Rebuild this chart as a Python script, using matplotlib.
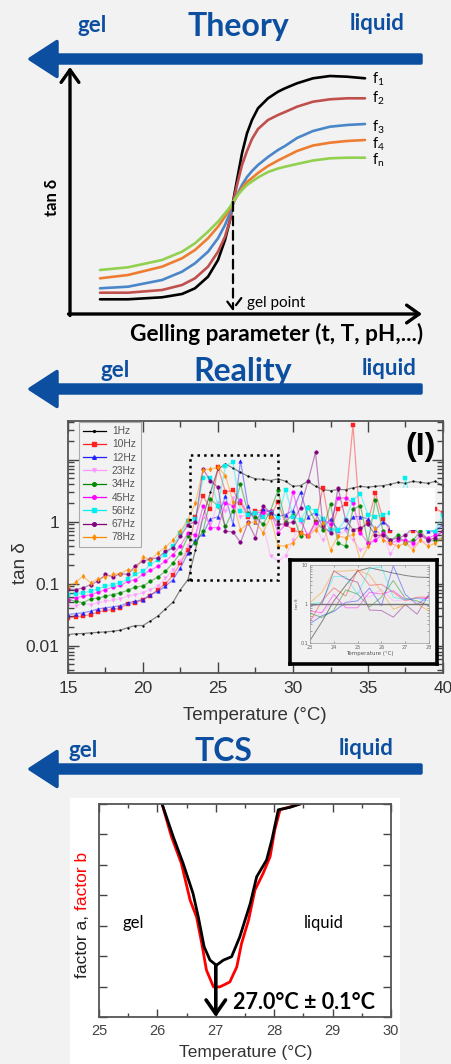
import numpy as np
import matplotlib.pyplot as plt
from matplotlib.patches import FancyArrow, Rectangle
from matplotlib.ticker import LogLocator, MultipleLocator, FixedLocator, FixedFormatter, NullFormatter

W, H = 452, 1064
BG = '#f2f2f2'
BLUE = '#0c4fa0'
SANS = 'Liberation Sans'
CAL = 'Lato'

# ---------------- Theory (arbitrary units) ----------------
th_x = [30, 58, 92, 112, 125, 138, 148, 155, 160, 163, 167, 172, 177, 182, 188, 198, 208, 215,
        227, 243, 260, 277, 295]
f1_y = [14.7, 14.7, 16.7, 20, 25.7, 37.3, 54, 74, 94, 112, 134, 160.7, 180.7, 194, 205.7, 215.7, 222.3, 225.7,
        230.7, 235.7, 238, 237.3, 235.7]
f2_y = [21.3, 21.3, 24, 29, 35.7, 47.3, 62.3, 77.3, 94, 110.7, 129, 149, 163, 175, 185, 194, 199, 202,
        207.3, 212.3, 214.7, 215.7, 215.7]
f3_y = [25.7, 27.3, 34, 42.3, 50.7, 62.3, 75.7, 89, 101, 110, 119, 129, 137, 143, 149, 157, 164, 168,
        176, 183, 187.3, 189, 190]
f4_y = [35.7, 39, 47.3, 55.7, 64, 75.7, 87.3, 97.3, 105, 111, 118, 126, 132, 136, 141, 148, 153.5, 157,
        163, 168.5, 171.3, 173, 174]
fn_y = [44, 46.7, 54, 62.3, 70.7, 82.3, 92.3, 100.7, 107, 112, 118, 124, 129, 132.5, 136.5, 142, 145.5, 147.3,
        150, 153.5, 155.7, 156.3, 156.3]
theory_labels = [r'f$_\mathregular{1}$', r'f$_\mathregular{2}$', r'f$_\mathregular{3}$',
                 r'f$_\mathregular{4}$', r'f$_\mathregular{n}$']
theory_label_y = [231, 212, 183, 166, 150]
theory_colors = ['black', '#c0504d', '#4a86c8', '#ed7d31', '#92d050']
gel_point = (163, 112)

# ---------------- Reality: tan delta vs temperature ----------------
temps = np.arange(15, 40.01, 0.5)
freqs = ['1Hz', '10Hz', '12Hz', '23Hz', '34Hz', '45Hz', '56Hz', '67Hz', '78Hz']
tan_1 = [0.015, 0.0155, 0.0156, 0.016, 0.0163, 0.0166, 0.017, 0.0177, 0.0195, 0.021, 0.021, 0.025, 0.030, 0.039, 0.050, 0.080, 0.116,
         0.35, 1.2, 3.0, 7.0, 8.5, 7.3, 6.2, 5.4, 4.9, 4.8, 4.6, 4.9,
         4.47, 3.71, 3.81, 4.47, 3.71, 3.28, 3.16, 3.28, 3.28, 3.5, 3.71, 3.6, 3.71, 3.81, 4.0, 4.3, 4.15, 4.47, 4.3, 4.15, 4.47, 3.71]
tan_10 = [0.0279, 0.029, 0.0297, 0.0316, 0.0345, 0.037, 0.038, 0.0405, 0.047, 0.0488, 0.055, 0.064, 0.080, 0.10, 0.135, 0.215, 0.354,
          1.2, 2.6, 1.6, 7.5, 3.0, 3.2, 2.0, 1.2, 1.5, 1.5, 1.2, 2.1, 0.9, 0.74, 0.66, 0.58, 1.0, 3.5, 0.74, 1.6, 1.9, 36, 0.74,
          1.0, 2.9, 1.1, 0.7, 0.9, 1.3, 0.7, 0.9, 1.2, 1.6, 1.4]
tan_12 = [0.0316, 0.0328, 0.0337, 0.0358, 0.039, 0.0405, 0.042, 0.044, 0.0488, 0.052, 0.055, 0.0665, 0.075, 0.091, 0.116, 0.179, 0.313,
          0.5, 0.64, 1.1, 1.2, 2.56, 0.9, 9.6, 1.77, 0.97, 1.6, 1.4, 1.2, 1.3, 1.5, 3.0, 1.2, 1.4, 0.8, 1.1, 0.74, 0.8, 1.2, 1.2,
          1.1, 0.74, 1.0, 0.8, 0.9, 1.1, 0.8, 0.9, 0.7, 0.7, 0.9]
tan_23 = [0.043, 0.044, 0.0476, 0.0458, 0.0488, 0.052, 0.054, 0.057, 0.0625, 0.0665, 0.071, 0.080, 0.091, 0.123, 0.168, 0.229, 0.40,
          0.6, 1.2, 0.9, 2.0, 1.5, 2.4, 1.2, 1.3, 1.1, 0.9, 0.28, 0.23, 0.28, 0.5, 1.0, 0.6, 0.8, 0.5, 0.9, 0.6, 0.7, 0.5, 0.35,
          0.4, 0.5, 0.6, 0.3, 0.5, 0.45, 0.4, 0.5, 0.45, 0.5, 0.6]
tan_34 = [0.055, 0.052, 0.0488, 0.0566, 0.058, 0.0625, 0.0665, 0.071, 0.078, 0.088, 0.091, 0.109, 0.128, 0.158, 0.215, 0.313, 0.58,
          0.45, 0.7, 2.3, 1.8, 0.84, 1.5, 4.0, 1.4, 1.2, 0.9, 1.5, 3.2, 1.0, 1.3, 0.58, 1.7, 1.0, 0.74, 1.9, 0.45, 0.4, 1.6, 1.8,
          0.45, 2.26, 0.7, 0.5, 0.6, 0.45, 0.5, 0.7, 0.5, 0.5, 0.55]
tan_45 = [0.055, 0.0588, 0.0625, 0.0665, 0.072, 0.080, 0.088, 0.093, 0.109, 0.116, 0.14, 0.164, 0.19, 0.229, 0.294, 0.41, 0.656,
          0.6, 1.77, 0.8, 0.8, 2.0, 1.8, 2.2, 1.3, 1.4, 1.4, 1.5, 0.66, 0.9, 3.0, 1.08, 0.58, 0.95, 1.08, 0.9, 2.4, 2.4, 2.0, 0.66,
          0.45, 0.5, 0.66, 0.45, 0.5, 0.5, 0.45, 0.6, 0.55, 0.6, 0.7]
tan_56 = [0.0665, 0.069, 0.071, 0.075, 0.082, 0.091, 0.096, 0.103, 0.119, 0.14, 0.158, 0.203, 0.244, 0.294, 0.40, 0.656, 1.01,
          1.1, 5.1, 5.1, 1.77, 8.0, 9.0, 1.5, 1.3, 1.4, 1.2, 1.4, 1.2, 3.28, 1.2, 1.08, 1.66, 1.5, 1.1, 0.74, 0.74, 1.08, 2.26, 2.75,
          1.3, 1.2, 1.3, 1.4, 1.3, 5.0, 1.4, 1.0, 0.75, 0.7, 1.3]
tan_67 = [0.082, 0.080, 0.085, 0.096, 0.109, 0.14, 0.128, 0.145, 0.14, 0.195, 0.229, 0.25, 0.26, 0.333, 0.376, 0.58, 0.895,
          1.0, 7.1, 4.5, 3.6, 0.7, 0.68, 0.46, 0.97, 0.55, 1.8, 1.4, 0.92, 0.9, 1.0, 1.66, 4.5, 13.1, 0.84, 0.66, 3.5, 1.08, 0.74, 0.8,
          0.9, 0.6, 0.6, 0.5, 0.55, 0.6, 0.8, 0.6, 0.5, 0.55, 0.7]
tan_78 = [0.088, 0.105, 0.131, 0.103, 0.119, 0.128, 0.140, 0.145, 0.168, 0.164, 0.269, 0.244, 0.313, 0.39, 0.50, 0.70, 1.08,
          2.0, 6.9, 7.0, 7.5, 5.5, 2.1, 0.74, 0.94, 1.0, 0.66, 1.2, 0.40, 0.41, 0.45, 0.66, 0.58, 0.74, 0.95, 0.35, 0.58, 0.55, 0.62, 0.23,
          0.4, 0.8, 0.5, 0.45, 0.4, 0.45, 0.35, 0.5, 0.4, 0.45, 0.55]
tan_series = [tan_1, tan_10, tan_12, tan_23, tan_34, tan_45, tan_56, tan_67, tan_78]
freq_colors = ['black', '#ff2020', '#2020ff', '#ff99ff', '#008800', '#ff00ff', '#00f0f0', '#800080', '#ff8c00']
freq_markers = ['.', 's', '^', 'v', 'o', 'o', 's', 'o', 'd']
zoom_box = (23.1, 29.0, 0.116, 12.0)

# ---------------- TCS ----------------
fa_T = [26.08, 26.27, 26.44, 26.61, 26.70, 26.80, 26.90, 27.01, 27.13, 27.27, 27.41, 27.59, 27.70, 27.87, 27.96, 28.07, 28.27, 28.44]
fa_v = [7.0, 5.93, 5.05, 4.06, 3.29, 2.31, 1.87, 1.70, 1.87, 1.98, 2.63, 3.73, 4.61, 5.16, 5.82, 6.81, 6.89, 7.0]
fb_T = [26.08, 26.24, 26.41, 26.56, 26.67, 26.76, 26.84, 26.96, 27.07, 27.24, 27.36, 27.44, 27.56, 27.67, 27.81, 27.93, 28.01, 28.10, 28.44]
fb_v = [7.0, 5.93, 5.05, 3.84, 3.29, 2.41, 1.54, 0.99, 0.99, 1.15, 1.65, 2.41, 3.18, 4.17, 4.72, 5.27, 6.15, 6.81, 7.0]
t_gel = 27.0
t_gel_text = '27.0°C ± 0.1°C'


def fig_rect(x0, y0, x1, y1):
    # pixel box (top-left origin) -> figure fraction
    return [x0 / W, 1 - y1 / H, (x1 - x0) / W, (y1 - y0) / H]


fig = plt.figure(figsize=(W / 100, H / 100), dpi=100, facecolor=BG)

# overlay in pixel coordinates for headings and labels
ov = fig.add_axes([0, 0, 1, 1], zorder=20)
ov.set_xlim(0, W)
ov.set_ylim(H, 0)
ov.axis('off')


def header(y_arrow, y_text, title, gel_x, title_x, liq_x):
    ov.add_patch(FancyArrow(421, y_arrow, -391, 0, width=8, head_width=35, head_length=27,
                            length_includes_head=True, fc=BLUE, ec=BLUE, lw=2.5, joinstyle='round'))
    ov.text(gel_x, y_text, 'gel', color=BLUE, fontsize=16, fontweight='bold', family=CAL, ha='center', va='baseline')
    ov.text(title_x, y_text + 4, title, color=BLUE, fontsize=23, fontweight='bold', family=CAL, ha='center', va='baseline')
    ov.text(liq_x, y_text - 2, 'liquid', color=BLUE, fontsize=16, fontweight='bold', family=CAL, ha='center', va='baseline')


header(59, 32, 'Theory', 92, 238, 377)
header(389, 377, 'Reality', 115, 243, 389)
header(769, 757, 'TCS', 83, 223, 366)

# ---------------- Theory panel ----------------
ax1 = fig.add_axes(fig_rect(70, 70, 420, 314), zorder=2)
ax1.set_xlim(0, 350)
ax1.set_ylim(0, 244)
ax1.axis('off')
for ys, c in zip([f1_y, f2_y, f3_y, f4_y, fn_y], theory_colors):
    ax1.plot(th_x, ys, color=c, lw=1.9, solid_capstyle='round', solid_joinstyle='round')
for lab, ly in zip(theory_labels, theory_label_y):
    ax1.text(302, ly, lab, fontsize=10.5, family=CAL, ha='left', va='baseline')
arr = dict(arrowstyle='->,head_length=0.45,head_width=0.32', lw=2.4, color='black', mutation_scale=20,
           shrinkA=0, shrinkB=0)
ax1.annotate('', xy=(0, 247), xytext=(0, -1.5), arrowprops=arr, annotation_clip=False)
ax1.annotate('', xy=(352, 0), xytext=(-1.5, 0), arrowprops=arr, annotation_clip=False)
ax1.annotate('', xy=(gel_point[0], 3), xytext=gel_point,
             arrowprops=dict(arrowstyle='->,head_length=0.4,head_width=0.3', lw=1.6, ls=(0, (4, 2.5)),
                             color='black', mutation_scale=20, shrinkA=0, shrinkB=0))
ax1.text(gel_point[0] + 14, 7, 'gel point', fontsize=11, family=CAL, ha='left', va='baseline')
ov.text(52, 197, 'tan δ', fontsize=12, fontweight='bold', family=CAL, rotation=90, ha='center', va='center')
ov.text(277, 341, 'Gelling parameter (t, T, pH,...)', fontsize=16.3, fontweight='bold', family=CAL,
        ha='center', va='baseline')

# ---------------- Reality panel ----------------
ax2 = fig.add_axes(fig_rect(68, 421, 443, 673), zorder=2)
ax2.set_facecolor(BG)
for vals, lab, c, m in zip(tan_series, freqs, freq_colors, freq_markers):
    ax2.plot(temps, vals, color=c, alpha=0.45, lw=0.9, label=lab)
    ax2.plot(temps, vals, ls='none', marker=m, ms=2.6, mfc=c, mec=c, mew=0.3)
handles = [plt.Line2D([], [], color=c, lw=0.9, marker=m, ms=2.6, mfc=c, mec=c) for c, m in zip(freq_colors, freq_markers)]
leg = ax2.legend(handles, freqs, loc='upper left', bbox_to_anchor=(0.028, 0.998), borderaxespad=0,
                 prop={'family': SANS, 'size': 7.4}, handlelength=2.2, labelspacing=0.32, handletextpad=0.6,
                 borderpad=0.45, fancybox=False, framealpha=1, facecolor=BG, edgecolor='#aaaaaa')
leg.get_frame().set_linewidth(0.8)
for t in leg.get_texts():
    t.set_color('#555555')
ax2.set_yscale('log')
ax2.set_xlim(15, 40)
ax2.set_ylim(0.0036, 42)
ax2.xaxis.set_major_locator(MultipleLocator(5))
ax2.xaxis.set_minor_locator(MultipleLocator(2.5))
ax2.yaxis.set_major_locator(FixedLocator([0.01, 0.1, 1, 10]))
ax2.yaxis.set_major_formatter(FixedFormatter(['0.01', '0.1', '1', '']))
ax2.yaxis.set_minor_locator(LogLocator(subs=np.arange(2, 10)))
ax2.yaxis.set_minor_formatter(NullFormatter())
ax2.tick_params(which='both', direction='in', top=True, right=True, colors='#444444', width=1)
ax2.tick_params(which='major', length=8, labelsize=12.5, pad=6, labelcolor='#333333')
ax2.tick_params(which='minor', length=4)
for lbl in ax2.get_xticklabels() + ax2.get_yticklabels():
    lbl.set_family(SANS)
for s in ax2.spines.values():
    s.set_color('#555555')
    s.set_linewidth(1.3)
x0, x1, y0, y1 = zoom_box
ax2.add_patch(Rectangle((x0, y0), x1 - x0, y1 - y0, fill=False, ls=':', lw=1.8, ec='black', zorder=4))
ax2.text(0.98, 0.955, '(I)', transform=ax2.transAxes, fontsize=23, fontweight='bold', family=SANS,
         ha='right', va='top')
ov.text(21, 563, 'tan δ', fontsize=13.5, family=SANS, color='#333333', rotation=90, ha='center', va='center')
ov.text(255, 715, 'Temperature (°C)', fontsize=13.5, family=SANS, color='#333333', ha='center', va='center')
ov.add_patch(Rectangle((390, 488), 45, 42, fc='white', ec='none'))

# inset
frame = fig.add_axes(fig_rect(290, 560, 437, 664), zorder=5)
frame.set_facecolor(BG)
frame.set_xticks([])
frame.set_yticks([])
for s in frame.spines.values():
    s.set_linewidth(2.6)
ins = fig.add_axes(fig_rect(310, 565, 429, 643), zorder=6)
ins.set_facecolor('#ececec')
sel = (temps >= 23) & (temps <= 28)
for vals, c in zip(tan_series, freq_colors):
    ins.plot(temps[sel], np.array(vals)[sel], color=c, alpha=0.45, lw=0.7)
ins.axhline(1, color='#777777', lw=1)
ins.set_yscale('log')
ins.set_xlim(23, 28)
ins.set_ylim(0.1, 10)
ins.set_xticks([23, 24, 25, 26, 27, 28])
ins.yaxis.set_major_locator(FixedLocator([0.1, 1, 10]))
ins.yaxis.set_major_formatter(FixedFormatter(['0.1', '1', '10']))
ins.yaxis.set_minor_formatter(NullFormatter())
ins.tick_params(which='both', direction='in', labelsize=3.5, length=1.5, pad=1.5, colors='#666666', width=0.4,
                top=True, right=True)
ins.set_xlabel('Temperature (°C)', fontsize=4, labelpad=0.5, color='#555555')
ins.set_ylabel('tan δ', fontsize=3, labelpad=0.5, color='#555555')
for s in ins.spines.values():
    s.set_color('#999999')
    s.set_linewidth(0.5)

# ---------------- TCS panel ----------------
fig.add_artist(Rectangle((70 / W, 0), 330 / W, 266 / H, transform=fig.transFigure, fc='white', ec='none', zorder=0.5))
ax3 = fig.add_axes(fig_rect(99, 804, 391, 1017), zorder=2)
ax3.set_facecolor('white')
ax3.plot(fb_T, fb_v, color='#ff0000', lw=2)
ax3.plot(fa_T, fa_v, color='black', lw=2)
ax3.set_xlim(25, 30)
ax3.set_ylim(0, 7)
ax3.xaxis.set_major_locator(MultipleLocator(1))
ax3.xaxis.set_minor_locator(MultipleLocator(0.5))
ax3.yaxis.set_major_locator(MultipleLocator(1))
ax3.yaxis.set_major_formatter(NullFormatter())
ax3.tick_params(which='both', direction='in', top=True, right=True, colors='#444444', width=1)
ax3.tick_params(which='major', length=6, labelsize=10.5, pad=5, labelcolor='#444444')
ax3.tick_params(which='minor', length=3)
for lbl in ax3.get_xticklabels():
    lbl.set_family(SANS)
for s in ax3.spines.values():
    s.set_color('#555555')
    s.set_linewidth(1.3)
ax3.annotate('', xy=(t_gel, 0), xytext=(t_gel, fa_v[7]),
             arrowprops=dict(arrowstyle='->,head_length=0.5,head_width=0.35', lw=2.6, color='black',
                             mutation_scale=20, shrinkA=0, shrinkB=0))
ax3.text(27.29, 0.49, t_gel_text, fontsize=15.5, fontweight='bold', family=CAL, ha='left', va='center')
ax3.text(25.58, 3.09, 'gel', fontsize=12, family=CAL, ha='center', va='center')
ax3.text(28.85, 3.09, 'liquid', fontsize=12, family=CAL, ha='center', va='center')
ya = ov.text(83, 978, 'factor a, ', fontsize=12.5, family=SANS, color='#222222', rotation=90, ha='center', va='bottom')
ov.annotate('factor b', xy=(0.5, 1), xycoords=ya, fontsize=12.5, family=SANS, color='#ff0000', rotation=90,
            ha='center', va='bottom')
ov.text(246, 1053, 'Temperature (°C)', fontsize=12.5, family=SANS, color='#333333', ha='center', va='center')

fig.savefig('out.png', dpi=100, facecolor=BG)
